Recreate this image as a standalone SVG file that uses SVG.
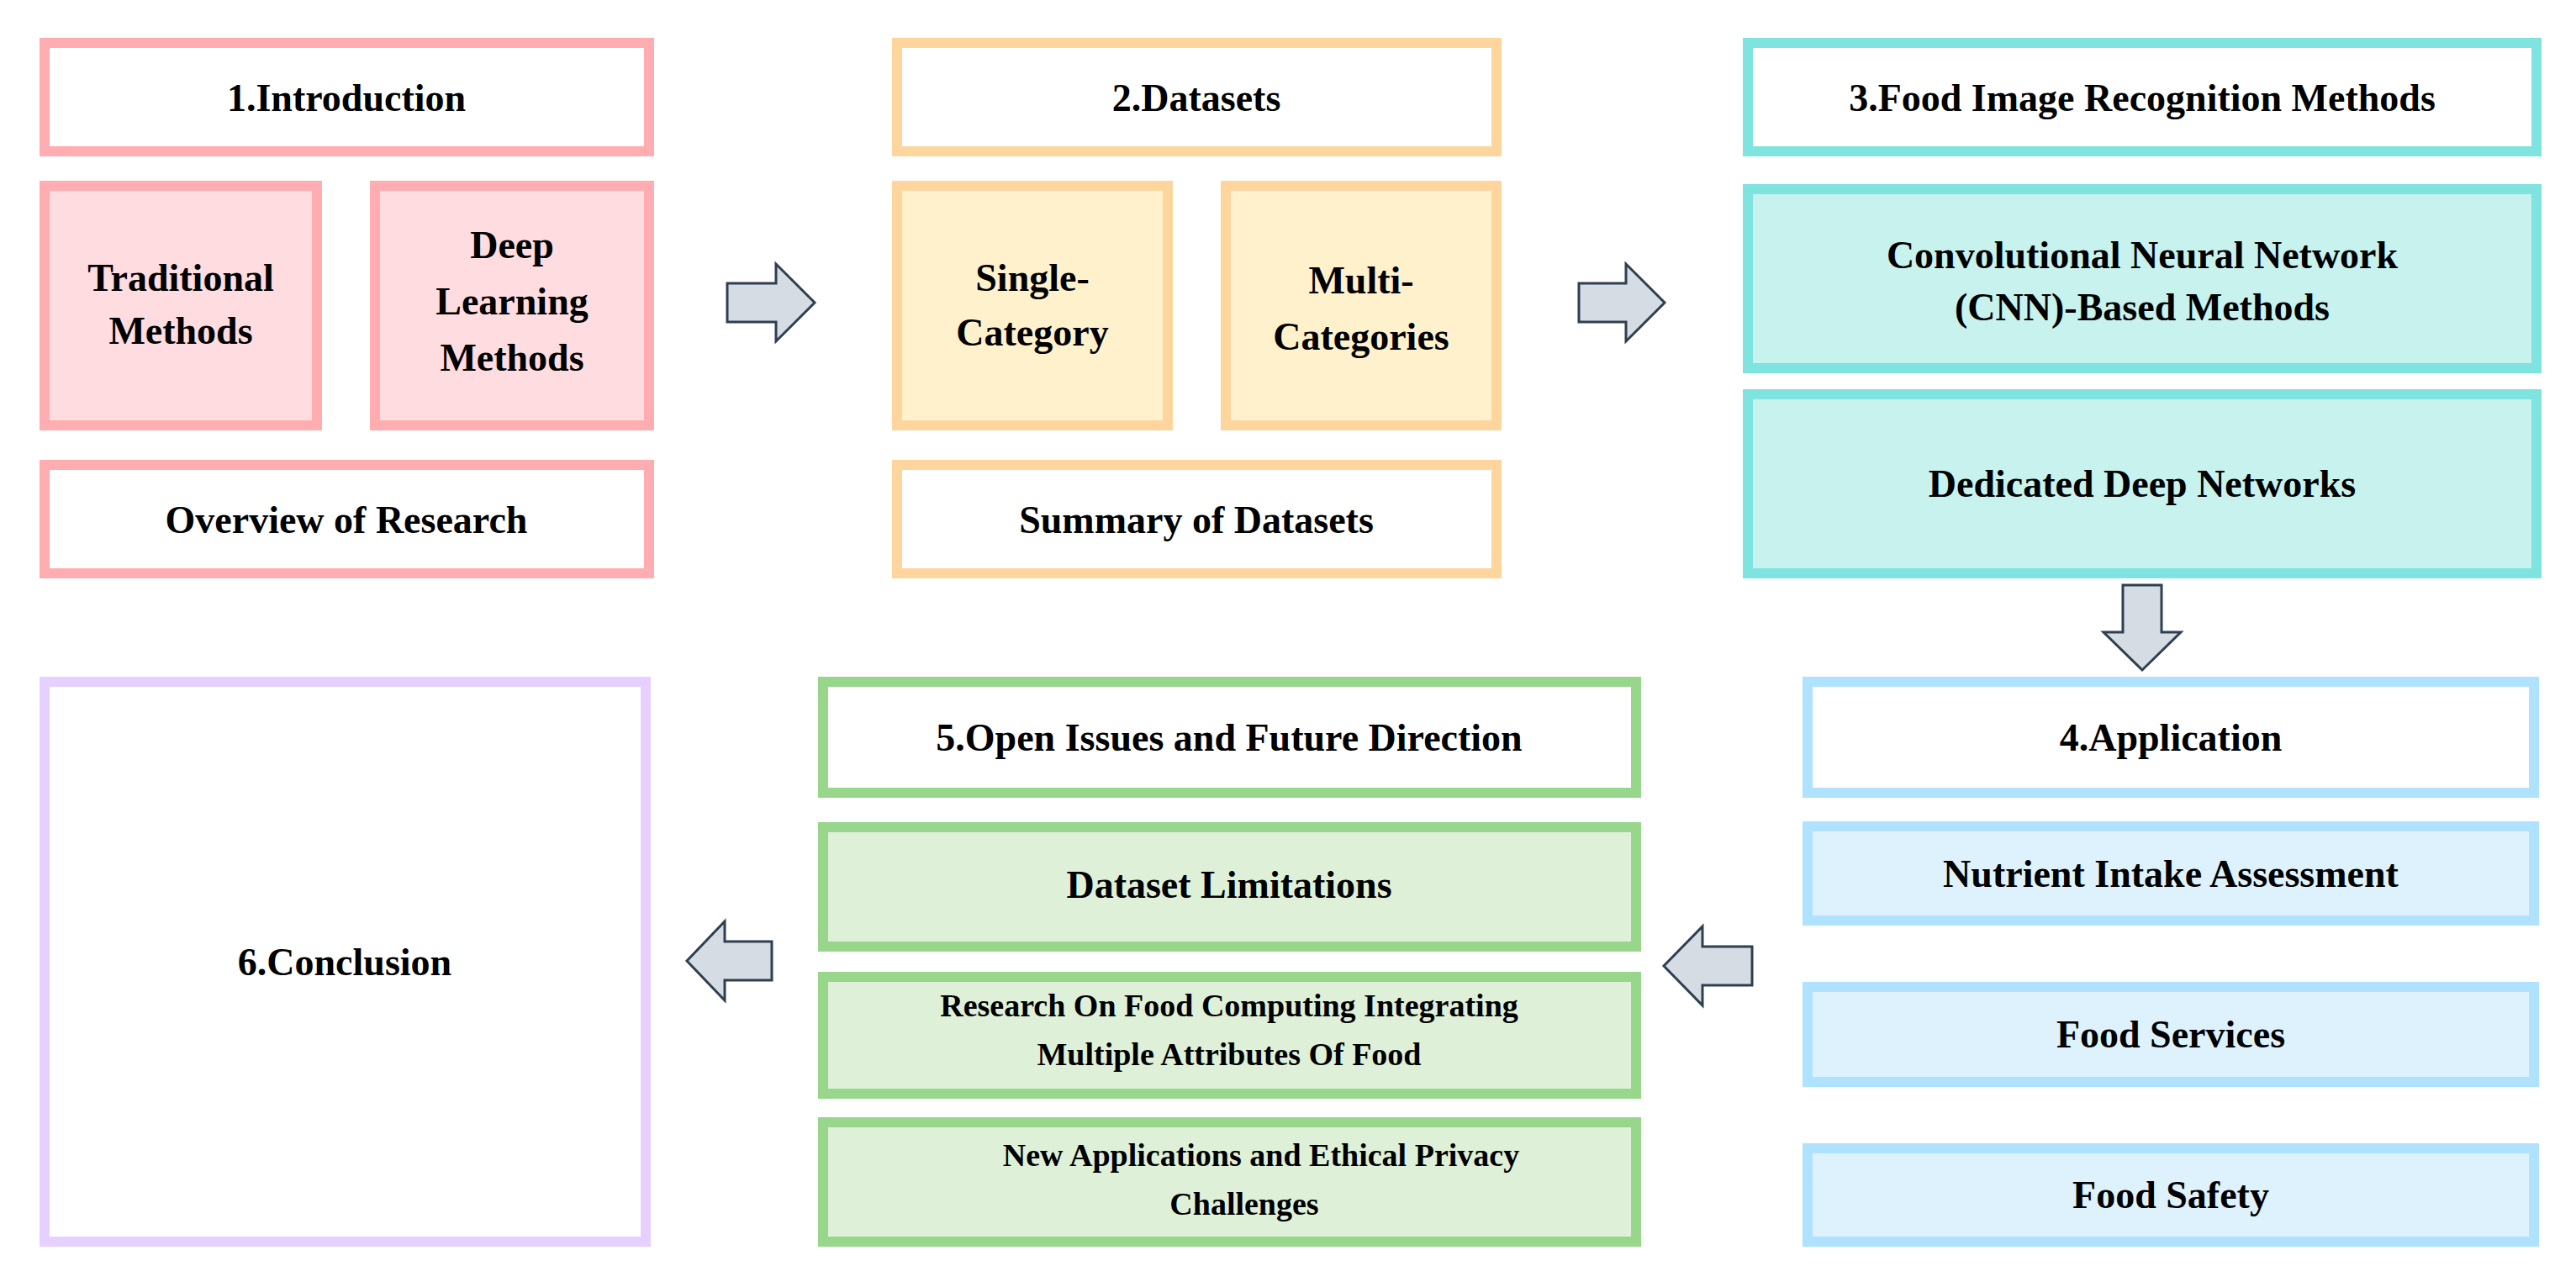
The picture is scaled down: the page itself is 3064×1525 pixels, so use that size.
<svg xmlns="http://www.w3.org/2000/svg" width="3064" height="1525" viewBox="0 0 3064 1525">
<style>
text{font-family:"Liberation Serif","Times New Roman",serif;font-weight:bold;font-size:46px;fill:#000;text-anchor:middle;dominant-baseline:central}
rect{stroke-width:12}
.pk{stroke:#FFADB0}.pkf{fill:#FFDCE0}
.or{stroke:#FFD59E}.orf{fill:#FFF1CC}
.cy{stroke:#7FE3DF}.cyf{fill:#C7F2EE}
.bl{stroke:#AEE2FF}.blf{fill:#DEF2FD}
.gr{stroke:#97D68B}.grf{fill:#DFF0D8}
.pu{stroke:#E6D0FF}
.w{fill:#fff}
.arr{fill:#D6DCE4;stroke:#2F3F50;stroke-width:3}
.sm{font-size:38px}
</style>
<rect width="3064" height="1525" fill="#fff" stroke="none"/>
<g id="intro"><rect class="pk w" x="53" y="51" width="719" height="129"/><text x="412" y="116">1.Introduction</text></g>
<g id="traditional"><rect class="pk pkf" x="53" y="221" width="324" height="285"/><text x="215" y="330">Traditional</text><text x="215" y="393">Methods</text></g>
<g id="deep"><rect class="pk pkf" x="446" y="221" width="326" height="285"/><text x="609" y="291">Deep</text><text x="609" y="358">Learning</text><text x="609" y="425">Methods</text></g>
<g id="overview"><rect class="pk w" x="53" y="553" width="719" height="129"/><text x="412" y="618">Overview of Research</text></g>
<g id="datasets"><rect class="or w" x="1067" y="51" width="713" height="129"/><text x="1423" y="116">2.Datasets</text></g>
<g id="single"><rect class="or orf" x="1067" y="221" width="322" height="285"/><text x="1228" y="330">Single-</text><text x="1228" y="395">Category</text></g>
<g id="multi"><rect class="or orf" x="1458" y="221" width="322" height="285"/><text x="1619" y="333">Multi-</text><text x="1619" y="400">Categories</text></g>
<g id="summary"><rect class="or w" x="1067" y="553" width="713" height="129"/><text x="1423" y="618">Summary of Datasets</text></g>
<g id="food"><rect class="cy w" x="2079" y="51" width="938" height="129"/><text x="2548" y="116">3.Food Image Recognition Methods</text></g>
<g id="cnn"><rect class="cy cyf" x="2079" y="225" width="938" height="213"/><text x="2548" y="303">Convolutional Neural Network</text><text x="2548" y="365">(CNN)-Based Methods</text></g>
<g id="dedicated"><rect class="cy cyf" x="2079" y="469" width="938" height="213"/><text x="2548" y="575">Dedicated Deep Networks</text></g>
<g id="application"><rect class="bl w" x="2150" y="811" width="864" height="132"/><text x="2582" y="877">4.Application</text></g>
<g id="nutrient"><rect class="bl blf" x="2150" y="983" width="864" height="112"/><text x="2582" y="1039">Nutrient Intake Assessment</text></g>
<g id="services"><rect class="bl blf" x="2150" y="1174" width="864" height="113"/><text x="2582" y="1230">Food Services</text></g>
<g id="safety"><rect class="bl blf" x="2150" y="1366" width="864" height="111"/><text x="2582" y="1421">Food Safety</text></g>
<g id="open"><rect class="gr w" x="979" y="811" width="967" height="132"/><text x="1462" y="877">5.Open Issues and Future Direction</text></g>
<g id="limitations"><rect class="gr grf" x="979" y="984" width="967" height="142"/><text x="1462" y="1052">Dataset Limitations</text></g>
<g id="research"><rect class="gr grf" x="979" y="1162" width="967" height="139"/><text class="sm" x="1462" y="1196">Research On Food Computing Integrating</text><text class="sm" x="1462" y="1254">Multiple Attributes Of Food</text></g>
<g id="newapps"><rect class="gr grf" x="979" y="1335" width="967" height="142"/><text class="sm" x="1500" y="1374">New Applications and Ethical Privacy</text><text class="sm" x="1480" y="1432">Challenges</text></g>
<g id="conclusion"><rect class="pu w" x="53" y="811" width="715" height="666"/><text x="410" y="1144">6.Conclusion</text></g>
<g id="connectors">
<polygon class="arr" points="865,337 923,337 923,314 969,360 923,406 923,383 865,383"/>
<polygon class="arr" points="1878,337 1934,337 1934,314 1980,360 1934,406 1934,383 1878,383"/>
<polygon class="arr" points="2525,696 2571,696 2571,752 2594,752 2548,797 2502,752 2525,752"/>
<polygon class="arr" points="2084,1126 2025,1126 2025,1102 1979,1149 2025,1196 2025,1172 2084,1172"/>
<polygon class="arr" points="918,1120 862,1120 862,1096 817,1143 862,1190 862,1166 918,1166"/>
</g>
</svg>
